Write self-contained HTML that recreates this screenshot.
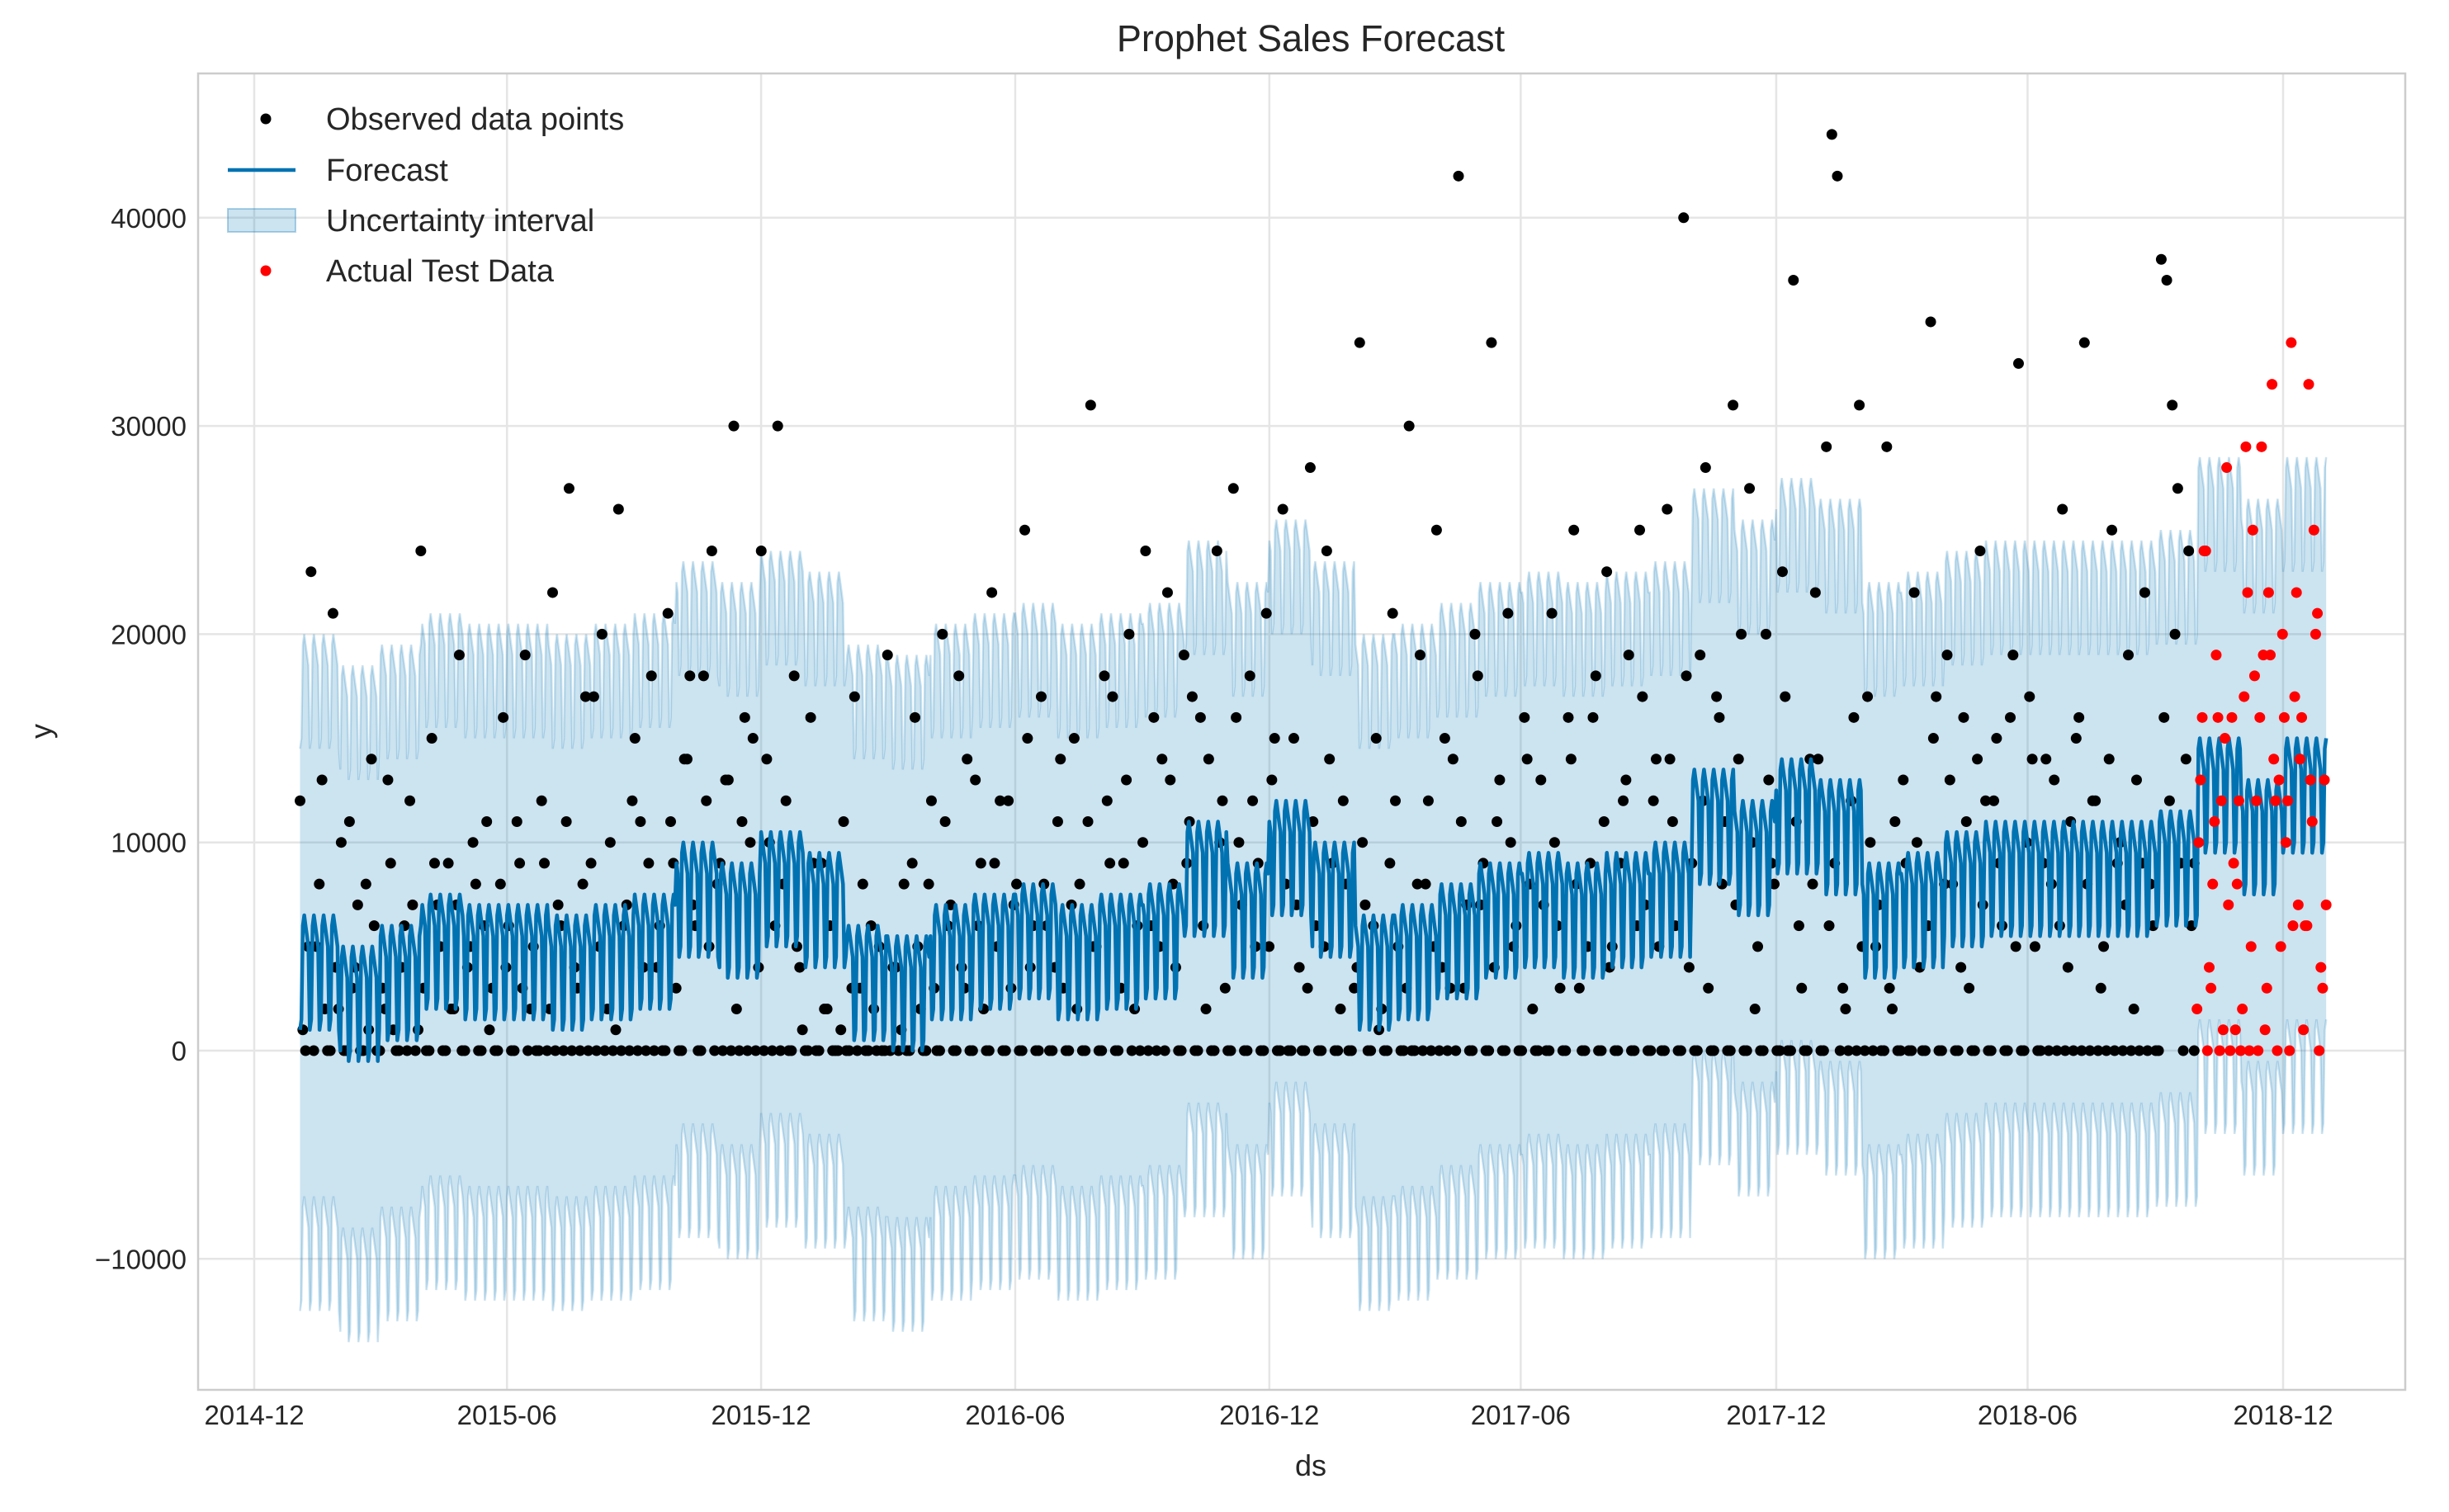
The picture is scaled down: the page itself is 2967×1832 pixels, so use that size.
<!DOCTYPE html>
<html><head><meta charset="utf-8"><style>
html,body{margin:0;padding:0;background:#fff;}
svg text{font-family:"Liberation Sans",sans-serif;fill:#262626;}
</style></head><body>
<svg id="chart" width="2967" height="1827" xmlns="http://www.w3.org/2000/svg">
<defs><clipPath id="clip"><rect x="240" y="89" width="2674" height="1595"/></clipPath></defs>
<rect x="0" y="0" width="2967" height="1827" fill="#fff"/>
<g id="grid"></g>
<g id="plot" clip-path="url(#clip)"></g>
<rect x="240" y="89" width="2674" height="1595" fill="none" stroke="#cccccc" stroke-width="2.5"/>
<g id="ticks"></g>
<text x="1588" y="62" font-size="45" text-anchor="middle">Prophet Sales Forecast</text>
<text x="1588" y="1788" font-size="36" text-anchor="middle">ds</text>
<text x="62" y="886" font-size="36" text-anchor="middle" transform="rotate(-90 62 886)">y</text>
<g id="legend">
 <g><circle cx="322" cy="144" r="6.5" fill="#000"/><text x="395" y="157" font-size="38">Observed data points</text></g>
 <g><line x1="276" y1="206" x2="358" y2="206" stroke="#0072B2" stroke-width="4.5"/><text x="395" y="219" font-size="38">Forecast</text></g>
 <g><rect x="276" y="253" width="82" height="28" fill="rgba(0,114,178,0.2)" stroke="rgba(0,114,178,0.3)" stroke-width="2"/><text x="395" y="280" font-size="38">Uncertainty interval</text></g>
 <g><circle cx="322" cy="328" r="6.5" fill="#ff0000"/><text x="395" y="341" font-size="38">Actual Test Data</text></g>
</g>
</svg>
<script>
// ---- data ----
const xTickLabels = ["2014-12","2015-06","2015-12","2016-06","2016-12","2017-06","2017-12","2018-06","2018-12"];
const xTickDays = [0,182,365,548,731,912,1096,1277,1461];
const yTickValues = [-10000,0,10000,20000,30000,40000];
// monthly forecast level, from 2015-01 to 2019-01
const fcMonth = [4500,3000,4000,5500,5000,5000,4500,5000,5500,8000,7000,8500,
 7500,4000,3500,5000,5500,6000,5000,5500,6000,9000,7000,10000,
 8000,4500,5000,6000,7000,7500,7000,7500,8000,11500,10000,12000,
 11000,7000,7500,8500,9000,9000,9000,9000,9500,13000,11000,13000,13000];
// weekly seasonal effect Mon..Sun
const weekly = [1500,2000,1500,1000,500,-3500,-3000];
const bandHalf = [13500];
const fcStartDay = 33, fcEndDay = 1492;
// observed training values (thousands)
const obsVal = [12,0,23,5,13,0,21,2,0,11,4,0,8,14,0,3,13,1,0,6,12,0,
24,0,15,7,0,9,2,19,0,5,8,0,11,3,0,16,6,0,9,19,2,0,
12,0,22,7,0,27,4,0,17,9,0,20,2,0,26,6,0,15,11,0,18,4,0,
21,9,0,14,18,6,0,12,24,8,0,13,30,0,16,10,0,24,14,0,30,8,0,
18,4,0,16,0,9,2,0,0,11,0,17,3,0,6,0,0,19,4,0,8,0,
16,2,0,12,0,20,6,0,18,3,0,13,9,0,22,5,0,12,7,0,25,4,0,
17,6,0,11,3,0,15,8,0,31,5,0,12,17,0,9,20,2,0,24,6,0,14,
22,8,0,19,11,0,16,2,0,24,12,0,27,10,0,18,5,0,21,13,0,26,0,
15,4,0,28,6,0,24,9,0,12,0,3,34,7,0,15,2,0,21,5,0,30,
0,19,8,0,25,4,0,14,42,3,0,20,7,0,34,11,0,21,5,0,16,8,0,
13,0,21,6,0,16,25,3,0,9,18,0,23,5,0,12,19,0,25,7,0,14,0,
26,11,0,40,4,0,19,28,0,17,8,0,31,14,0,27,2,0,20,9,0,23,0,
37,6,0,14,22,0,29,44,42,3,0,16,31,0,10,5,0,29,2,0,13,0,
22,4,0,35,17,0,19,8,0,16,3,0,24,12,0,15,6,0,19,33,0,17,5,
0,14,8,0,26,4,0,16,34,0,12,3,0,25,9,0,19,2,0,22,8,0,
38,37,31,27,0,24,9];
const obsVal2 = [1,5,0,8,2,0,4,10,0,3,7,0,1,6,0,2,9,0,4,0,7,1,
3,0,9,5,0,2,7,0,4,10,0,6,1,0,8,4,0,11,3,0,5,0,
9,2,0,6,11,0,3,8,0,17,5,0,10,1,0,7,12,0,4,9,0,6,0,
11,3,0,14,7,0,18,5,0,9,13,0,2,11,0,15,4,0,10,6,0,12,0,
5,1,0,9,0,2,6,0,1,0,3,0,8,0,2,5,0,0,4,1,0,9,
5,0,8,3,0,11,7,0,4,14,0,6,2,0,9,12,0,3,8,0,15,6,0,
8,0,4,14,0,7,2,0,11,5,0,18,9,0,3,13,0,6,10,0,16,5,0,
13,4,0,9,17,0,6,14,0,10,3,0,16,7,0,12,9,0,5,15,0,8,0,
7,0,3,11,0,5,14,0,2,8,0,4,10,0,6,1,0,9,12,0,3,0,
8,0,12,5,0,15,3,0,11,7,0,18,9,0,4,13,0,10,6,0,14,2,0,
7,0,10,3,0,14,8,0,5,16,0,11,4,0,9,13,0,6,17,0,12,5,0,
14,6,0,18,9,0,12,3,0,16,11,0,7,20,0,10,5,0,13,8,0,17,0,
11,3,0,8,14,0,6,9,0,2,12,0,5,17,0,7,0,3,11,0,9,0,
10,0,6,15,0,8,13,0,4,11,0,14,7,0,12,9,0,16,5,0,10,14,0,
9,0,13,6,0,11,15,0,8,12,0,5,14,0,10,7,0,13,9,0,6,0,
16,12,20,9,14,6,0];
const obsStartDay = 33, obsEndDay = 1397;
// test values (thousands)
const testVal = [2,10,13,16,24,24,0,4,3,8,11,19,16,0,12,1,15,28,7,0,16,9,1,8,12,0,2,17,29,22,0,5,25,18,12,0,16,29,19,1,3,22,19,32,14,12,0,13,5,20,16,10,12,0,34,6,17,22,7,14,16,1,6,6,32,13,11,25,20,21,0,4,3,13,7];
const testStartDay = 1399, testEndDay = 1492;

// ---- scales ----
const X0=308, PX_PER_DAY=(2766-308)/1461, Y0=1273, PX_PER_UNIT=252.3/10000;
const xs = d => X0 + d*PX_PER_DAY;
const ys = v => Y0 - v*PX_PER_UNIT;
const NS="http://www.w3.org/2000/svg";
const mk=(t,a)=>{const e=document.createElementNS(NS,t);for(const k in a)e.setAttribute(k,a[k]);return e;};
const grid=document.getElementById('grid'), plot=document.getElementById('plot'), ticks=document.getElementById('ticks');

xTickDays.forEach((d,i)=>{
  const l=mk('line',{x1:xs(d),x2:xs(d),y1:89,y2:1684,stroke:'#e5e5e5','stroke-width':2.5});
  
  
  grid.appendChild(l);
  const t=mk('text',{x:xs(d),y:1726,'font-size':33,'text-anchor':'middle'});
  t.textContent=xTickLabels[i];
  
  
  ticks.appendChild(t);
});
yTickValues.forEach(v=>{
  const l=mk('line',{x1:240,x2:2914,y1:ys(v),y2:ys(v),stroke:'#e5e5e5','stroke-width':2.5});
  
  
  grid.appendChild(l);
  const t=mk('text',{x:226,y:ys(v)+12,'font-size':33,'text-anchor':'end'});
  t.textContent=(v<0?'\u2212':'')+Math.abs(v);
  
  
  ticks.appendChild(t);
});

// forecast per day
const base=Date.UTC(2014,11,1);
const fc=[];
for(let d=fcStartDay; d<=fcEndDay; d++){
  const dt=new Date(base+d*86400000);
  const mi=(dt.getUTCFullYear()-2015)*12+dt.getUTCMonth();
  const m=fcMonth[Math.max(0,Math.min(fcMonth.length-1,mi))];
  fc.push([d, m+weekly[d%7]]);
}
const up=fc.map(p=>[p[0],p[1]+bandHalf[0]]), lo=fc.map(p=>[p[0],p[1]-bandHalf[0]]);
const pts=a=>a.map(p=>xs(p[0]).toFixed(1)+','+ys(p[1]).toFixed(1)).join(' ');
const band=mk('polygon',{points:pts(up)+' '+pts(lo.slice().reverse()),fill:'rgba(0,114,178,0.2)'});


plot.appendChild(band);
[up,lo].forEach(a=>{
  const l=mk('polyline',{points:pts(a),fill:'none',stroke:'rgba(0,114,178,0.2)','stroke-width':2.5});
  
  
  plot.appendChild(l);
});

[[obsVal,0],[obsVal2,0.5]].forEach(([arr,off])=>{
  const step=(obsEndDay-obsStartDay)/(arr.length-1);
  arr.forEach((v,i)=>{
    const d=Math.min(obsEndDay, obsStartDay+(i+off)*step);
    const c=mk('circle',{cx:xs(d),cy:ys(v*1000),r:6.5,fill:'#000'});
    
    
    plot.appendChild(c);
  });
});
const fl=mk('polyline',{points:pts(fc),fill:'none',stroke:'#0072B2','stroke-width':4.5,'stroke-linejoin':'round'});


plot.appendChild(fl);
const tstep=(testEndDay-testStartDay)/(testVal.length-1);
testVal.forEach((v,i)=>{
  const c=mk('circle',{cx:xs(testStartDay+i*tstep),cy:ys(v*1000),r:6.5,fill:'#ff0000'});
  
  
  plot.appendChild(c);
});
</script>
</body></html>
